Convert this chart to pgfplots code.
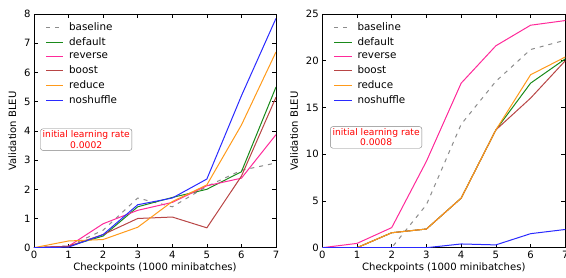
\documentclass[border=0pt]{standalone}
\usepackage{pgfplots}
\pgfplotsset{compat=1.18}
\usepackage{fontspec}
\setmainfont{DejaVu Sans}
\definecolor{cbase}{HTML}{8C8C8C}
\definecolor{cdef}{HTML}{1A8A1A}
\definecolor{crev}{HTML}{FF2A9A}
\definecolor{cboost}{HTML}{B84545}
\definecolor{cred}{HTML}{FF9A1A}
\definecolor{cnos}{HTML}{2A2AFF}
\pgfplotsset{
  myax/.style={
    scale only axis, width=243bp, height=233.7bp,
    xmin=0, xmax=7, ymin=0,
    xtick={0,1,...,7},
    tick align=inside, major tick length=4bp,
    xtick pos=both, ytick pos=both,
    /pgf/number format/assume math mode=true,
    ticklabel style={font=\fontsize{10.1}{12}\selectfont},
    label style={font=\fontsize{10.1}{12}\selectfont},
    xlabel={Checkpoints (1000 minibatches)},
    ylabel={Validation BLEU},
    xlabel style={yshift=3bp},
    ylabel style={yshift=1bp},
    axis line style={line width=0.6pt},
    every tick/.style={black, line width=0.6pt},
    legend style={draw=none, fill=none, at={(0.035,0.98)}, anchor=north west,
      font=\fontsize{10.4}{12}\selectfont, row sep=1.7bp,
      nodes={inner xsep=5.5bp}},
    legend cell align=left,
    every axis plot/.append style={line width=1bp},
  },
  pbase/.style={cbase, dash pattern=on 4bp off 5bp},
  pdef/.style={cdef},
  prev/.style={crev},
  pboost/.style={cboost},
  pred/.style={cred},
  pnos/.style={cnos},
}
\begin{document}
\begin{tikzpicture}
\useasboundingbox (0,0) rectangle (566bp,278bp);
\begin{axis}[myax, at={(34bp,30.3bp)}, anchor=south west, width=242bp, ymax=8, ytick={0,1,...,8}]
\addplot[pbase] coordinates {(0,0) (1,0.05) (2,0.6) (3,1.7) (4,1.4) (5,2.1) (6,2.65) (7,2.9)};
\addlegendentry{baseline}
\addplot[pdef] coordinates {(0,0) (1,0.05) (2,0.4) (3,1.4) (4,1.72) (5,2.0) (6,2.6) (7,5.5)};
\addlegendentry{default}
\addplot[prev] coordinates {(0,0) (1,0.05) (2,0.82) (3,1.28) (4,1.55) (5,2.12) (6,2.38) (7,3.87)};
\addlegendentry{reverse}
\addplot[pboost] coordinates {(0,0) (1,0.05) (2,0.45) (3,1.0) (4,1.05) (5,0.68) (6,2.45) (7,5.15)};
\addlegendentry{boost}
\addplot[pred] coordinates {(0,0) (1,0.23) (2,0.28) (3,0.7) (4,1.58) (5,2.15) (6,4.2) (7,6.7)};
\addlegendentry{reduce}
\addplot[pnos] coordinates {(0,0) (1,0.02) (2,0.45) (3,1.47) (4,1.7) (5,2.35) (6,5.2) (7,7.85)};
\addlegendentry{noshuffle}
\node[draw=gray, rounded corners=2.5bp, fill=white, text=red, align=center,
  font=\fontsize{9.2}{10.2}\selectfont, inner sep=2.2bp, minimum width=90bp]
  at (axis cs:1.51,3.7) {initial learning rate\\0.0002};
\end{axis}
\begin{axis}[myax, at={(322.3bp,30.3bp)}, anchor=south west, ymax=25, ytick={0,5,...,25}]
\addplot[pbase] coordinates {(0,0) (1,0) (2,0) (3,4.6) (4,13.2) (5,17.8) (6,21.2) (7,22.2)};
\addlegendentry{baseline}
\addplot[pdef] coordinates {(0,0) (1,0) (2,1.6) (3,2.0) (4,5.3) (5,12.6) (6,17.6) (7,20.2)};
\addlegendentry{default}
\addplot[prev] coordinates {(0,0) (1,0.46) (2,2.15) (3,9.25) (4,17.6) (5,21.6) (6,23.8) (7,24.3)};
\addlegendentry{reverse}
\addplot[pboost] coordinates {(0,0) (1,0) (2,1.6) (3,2.0) (4,5.3) (5,12.6) (6,16.0) (7,20.0)};
\addlegendentry{boost}
\addplot[pred] coordinates {(0,0) (1,0) (2,1.6) (3,2.0) (4,5.3) (5,12.6) (6,18.5) (7,20.4)};
\addlegendentry{reduce}
\addplot[pnos] coordinates {(0,0) (1,0) (2,0) (3,0) (4,0.4) (5,0.3) (6,1.5) (7,1.95)};
\addlegendentry{noshuffle}
\node[draw=gray, rounded corners=2.5bp, fill=white, text=red, align=center,
  font=\fontsize{9.2}{10.2}\selectfont, inner sep=2.2bp, minimum width=90bp]
  at (axis cs:1.55,11.8) {initial learning rate\\0.0008};
\end{axis}
\end{tikzpicture}
\end{document}
